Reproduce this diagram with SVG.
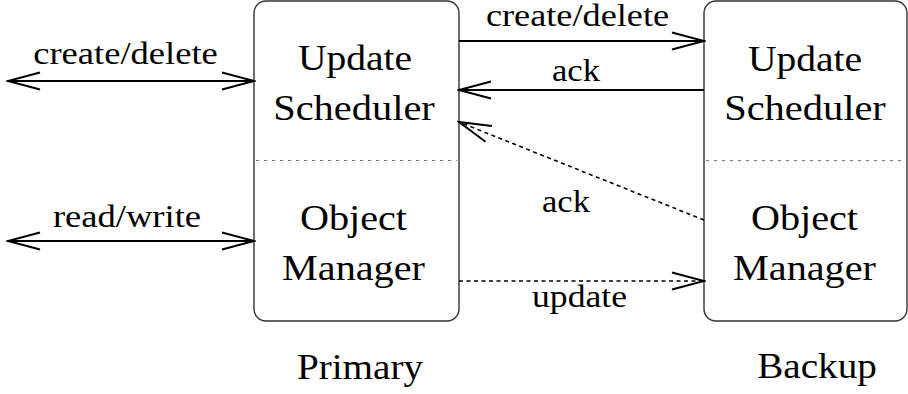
<svg xmlns="http://www.w3.org/2000/svg" width="908" height="394" viewBox="0 0 908 394">
<style>
  .box { fill: #ffffff; stroke: #333333; stroke-width: 1.4; }
  .div { stroke: #777777; stroke-width: 1; stroke-dasharray: 3 5; }
  .solid { stroke: #000; stroke-width: 2; fill: none; }
  .dot { stroke: #000; stroke-width: 1.6; fill: none; stroke-dasharray: 4 3.5; }
  text { font-family: 'Liberation Serif', 'Times New Roman', serif; fill: #000; text-anchor: middle; }
  .big { font-size: 35px; }
  .lab { font-size: 31px; }
</style>
<defs>
  <marker id="ah" viewBox="-34 -11 36 22" markerWidth="36" markerHeight="22" refX="0" refY="0" markerUnits="userSpaceOnUse" orient="auto-start-reverse">
    <path d="M-32,-8.5 L0,0 L-32,8.5" fill="none" stroke="#000" stroke-width="2"/>
  </marker>
</defs>
<rect width="908" height="394" fill="#ffffff"/>

<g id="primary">
  <rect class="box" x="254" y="1" width="205" height="320" rx="12" ry="12"/>
  <line class="div" x1="256" y1="160.5" x2="457" y2="160.5"/>
  <text class="big" transform="translate(355,70) scale(1.13,1)">Update</text>
  <text class="big" transform="translate(354,120) scale(1.155,1)">Scheduler</text>
  <text class="big" transform="translate(353.5,230) scale(1.147,1)">Object</text>
  <text class="big" transform="translate(353.5,280) scale(1.15,1)">Manager</text>
  <text class="big" transform="translate(360,379) scale(1.12,1)">Primary</text>
</g>

<g id="backup">
  <rect class="box" x="704" y="1" width="203" height="320" rx="12" ry="12"/>
  <line class="div" x1="706" y1="160.5" x2="905" y2="160.5"/>
  <text class="big" transform="translate(805,71) scale(1.13,1)">Update</text>
  <text class="big" transform="translate(805,120) scale(1.155,1)">Scheduler</text>
  <text class="big" transform="translate(804.5,230) scale(1.147,1)">Object</text>
  <text class="big" transform="translate(804.5,280) scale(1.15,1)">Manager</text>
  <text class="big" transform="translate(817,378) scale(1.12,1)">Backup</text>
</g>

<g id="connectors">
  <line class="solid" x1="8" y1="81" x2="254" y2="81" marker-start="url(#ah)" marker-end="url(#ah)"/>
  <text class="lab" transform="translate(125.5,64) scale(1.18,1)">create/delete</text>

  <line class="solid" x1="8" y1="241" x2="254" y2="241" marker-start="url(#ah)" marker-end="url(#ah)"/>
  <text class="lab" transform="translate(127,227) scale(1.18,1)">read/write</text>

  <line class="solid" x1="459" y1="41" x2="704" y2="41" marker-end="url(#ah)"/>
  <text class="lab" transform="translate(577.5,26) scale(1.17,1)">create/delete</text>

  <line class="solid" x1="704" y1="90" x2="459" y2="90" marker-end="url(#ah)"/>
  <text class="lab" transform="translate(576,81) scale(1.12,1)">ack</text>

  <line class="dot" x1="704" y1="220" x2="459" y2="122" marker-end="url(#ah)"/>
  <text class="lab" transform="translate(566,212) scale(1.12,1)">ack</text>

  <line class="dot" x1="459" y1="281" x2="704" y2="281" marker-end="url(#ah)"/>
  <text class="lab" transform="translate(579.5,307) scale(1.15,1)">update</text>
</g>
</svg>
